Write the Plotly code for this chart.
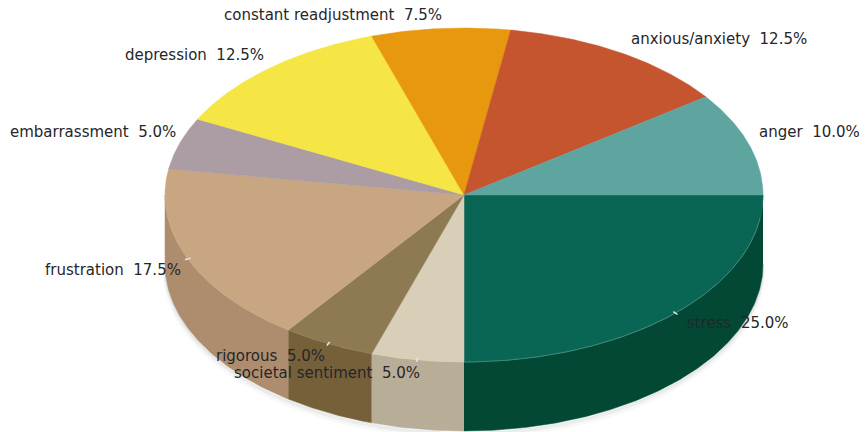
import numpy as np
import plotly.graph_objects as go

# Survey shares, clockwise from the three o'clock position
categories = ["stress", "societal sentiment", "rigorous", "frustration", "embarrassment",
              "depression", "constant readjustment", "anxious/anxiety", "anger"]
shares = [25.0, 5.0, 5.0, 17.5, 5.0, 12.5, 7.5, 12.5, 10.0]
top_colors = ["#0A6654", "#D9CFB8", "#8E7A52", "#C9A682", "#AC9CA3",
              "#F5E545", "#E8980E", "#C4552F", "#5EA5A0"]
wall_colors = ["#034835", "#B8AD96", "#75603A", "#AD8D6D", "#AC9CA3",
               "#F5E545", "#E8980E", "#C4552F", "#5EA5A0"]

# Disc geometry in layout units (the axes run 1:1 with the canvas)
CX, CY, RX, RY, DEPTH = 464, 195, 299, 167, 69
W, H = 865, 432

# Left edge and vertical centre of each text label
label_anchor = {
    "stress": (685, 323), "societal sentiment": (232, 373), "rigorous": (214, 356),
    "frustration": (43, 270), "embarrassment": (8, 132), "depression": (123, 55),
    "constant readjustment": (222, 15), "anxious/anxiety": (629, 39), "anger": (757, 132),
}


def arc(a0, a1, drop=0.0):
    """Points along the rim between two angles (degrees, clockwise on screen)."""
    t = np.radians(np.linspace(a0, a1, max(int(abs(a1 - a0) * 2), 2)))
    return CX + RX * np.cos(t), CY + RY * np.sin(t) + drop


fig = go.Figure()
edges = np.concatenate([[0], np.cumsum(shares)]) * 3.6

# Soft contact shadow under the front rim
for grow, alpha in [(5, 0.05), (3, 0.07), (1.5, 0.09)]:
    sx, sy = arc(0, 180, DEPTH)
    fig.add_trace(go.Scatter(
        x=sx, y=sy + grow, mode="lines", hoverinfo="skip",
        line=dict(color=f"rgba(90,110,100,{alpha})", width=grow),
    ))

# Side walls are only visible on the near half of the disc
for i, wall in enumerate(wall_colors):
    a0, a1 = edges[i], min(edges[i + 1], 180)
    if a0 >= 180:
        break
    tx, ty = arc(a0, a1)
    bx, by = arc(a0, a1, DEPTH)
    fig.add_trace(go.Scatter(
        x=np.concatenate([tx, bx[::-1]]), y=np.concatenate([ty, by[::-1]]),
        mode="lines", fill="toself", fillcolor=wall, hoverinfo="skip",
        line=dict(color=wall, width=0.5),
    ))

# Top face wedges
for i, top in enumerate(top_colors):
    ax, ay = arc(edges[i], edges[i + 1])
    fig.add_trace(go.Scatter(
        x=np.concatenate([[CX], ax, [CX]]), y=np.concatenate([[CY], ay, [CY]]),
        mode="lines", fill="toself", fillcolor=top, hoverinfo="skip",
        line=dict(color=top, width=0.5),
    ))

# Lighter rim along the front edge of the largest wedge
rx_, ry_ = arc(8, edges[1])
fig.add_trace(go.Scatter(x=rx_, y=ry_, mode="lines", hoverinfo="skip",
                         line=dict(color="#3F8A78", width=1)))

# Short leader ticks at the mid-angle of the front slices
for i in range(4):
    mid = np.radians((edges[i] + edges[i + 1]) / 2)
    px, py = CX + RX * np.cos(mid), CY + RY * np.sin(mid)
    fig.add_trace(go.Scatter(
        x=[px - 3 * np.cos(mid), px + 3 * np.cos(mid)],
        y=[py - 2 * np.sin(mid), py + 2 * np.sin(mid)],
        mode="lines", hoverinfo="skip", line=dict(color="#E8E8E0", width=1.5),
    ))

annotations = [
    dict(x=label_anchor[name][0], y=label_anchor[name][1],
         text=f"{name}\u00a0\u00a0{share:.1f}%", showarrow=False,
         xanchor="left", yanchor="middle", xref="x", yref="y",
         font=dict(family="DejaVu Sans", size=15, color="#26262A"))
    for name, share in zip(categories, shares)
]

fig.update_layout(
    width=W, height=H, margin=dict(l=0, r=0, t=0, b=0),
    paper_bgcolor="white", plot_bgcolor="white", showlegend=False,
    xaxis=dict(range=[0, W], visible=False, fixedrange=True),
    yaxis=dict(range=[H, 0], visible=False, fixedrange=True),
    annotations=annotations,
)
fig.write_html("out.html", config={"displayModeBar": False})
